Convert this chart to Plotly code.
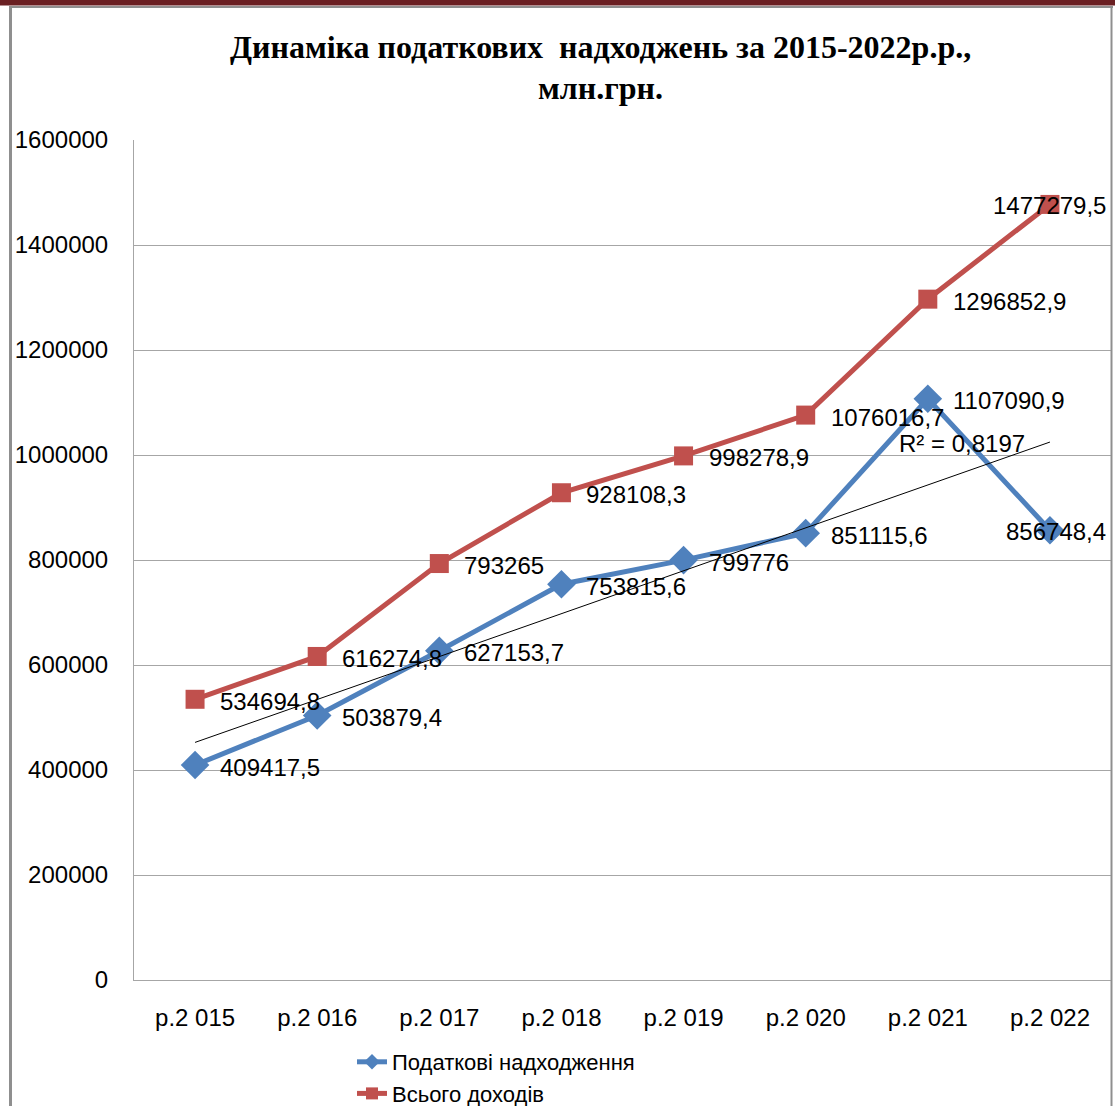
import numpy as np
import plotly.graph_objects as go

categories = ["р.2 015", "р.2 016", "р.2 017", "р.2 018", "р.2 019", "р.2 020", "р.2 021", "р.2 022"]
tax_revenue = [409417.5, 503879.4, 627153.7, 753815.6, 799776.0, 851115.6, 1107090.9, 856748.4]
total_revenue = [534694.8, 616274.8, 793265.0, 928108.3, 998278.9, 1076016.7, 1296852.9, 1477279.5]
y_ticks = [0, 200000, 400000, 600000, 800000, 1000000, 1200000, 1400000, 1600000]
r2_text = "R² = 0,8197"

BLUE = "#4f81bd"
RED = "#c0504d"
GRID = "#a6a6a6"
FONT = "Liberation Sans, Arial, sans-serif"
SERIF = "Liberation Serif, Times New Roman, serif"


def fmt(v):
    s = f"{v:.1f}".rstrip("0").rstrip(".")
    return s.replace(".", ",")


def px_x(p):
    return (p - 134) / 977


def px_y(p):
    return (980 - p) / 840


xs = list(range(len(categories)))
coef = np.polyfit(np.arange(1, len(tax_revenue) + 1), tax_revenue, 1)
trend_y = list(np.polyval(coef, np.arange(1, len(tax_revenue) + 1)))

fig = go.Figure()
fig.add_trace(go.Scatter(
    x=xs, y=tax_revenue, mode="lines+markers", name="Податкові надходження",
    line=dict(color=BLUE, width=5),
    marker=dict(symbol="diamond", size=22, color=BLUE),
))
fig.add_trace(go.Scatter(
    x=xs, y=total_revenue, mode="lines+markers", name="Всього доходів",
    line=dict(color=RED, width=5),
    marker=dict(symbol="square", size=19, color=RED),
))
fig.add_trace(go.Scatter(
    x=[xs[0], xs[-1]], y=[trend_y[0], trend_y[-1]], mode="lines",
    line=dict(color="#000000", width=1), showlegend=False, hoverinfo="skip",
))

annotations = []
n = len(categories)
for series in (tax_revenue, total_revenue):
    for i, v in enumerate(series):
        if i == n - 1:
            annotations.append(dict(x=xs[i], y=v, xref="x", yref="y", text=fmt(v),
                                    showarrow=False, xanchor="right", yanchor="middle",
                                    xshift=58, yshift=-1, font=dict(family=FONT, size=24, color="#000")))
        else:
            annotations.append(dict(x=xs[i], y=v, xref="x", yref="y", text=fmt(v),
                                    showarrow=False, xanchor="left", yanchor="middle",
                                    xshift=23, yshift=-2, font=dict(family=FONT, size=24, color="#000")))

annotations.append(dict(x=6.28, y=1022000, xref="x", yref="y", text=r2_text, showarrow=False,
                        xanchor="center", yanchor="middle",
                        font=dict(family=FONT, size=24, color="#000")))

# Title lines
annotations.append(dict(x=px_x(600), y=px_y(47), xref="paper", yref="paper",
                        text="<b>Динаміка податкових  надходжень за 2015-2022р.р.,</b>",
                        showarrow=False, xanchor="center", yanchor="middle",
                        font=dict(family=SERIF, size=32, color="#000")))
annotations.append(dict(x=px_x(600), y=px_y(88), xref="paper", yref="paper",
                        text="<b>млн.грн.</b>",
                        showarrow=False, xanchor="center", yanchor="middle",
                        font=dict(family=SERIF, size=32, color="#000")))

shapes = [
    # top dark red band
    dict(type="rect", xref="paper", yref="paper", x0=-0.2, x1=1.2,
         y0=px_y(5.5), y1=px_y(-10),
         fillcolor="#6a1f22", line=dict(width=0), layer="above"),
    # outer frame
    dict(type="line", xref="paper", yref="paper", x0=px_x(10.5), x1=px_x(10.5),
         y0=px_y(6.5), y1=px_y(1200), line=dict(color="#8f8f8f", width=3), layer="above"),
    dict(type="line", xref="paper", yref="paper", x0=px_x(9), x1=px_x(1113),
         y0=px_y(7), y1=px_y(7), line=dict(color="#8f8f8f", width=2), layer="above"),
    dict(type="line", xref="paper", yref="paper", x0=px_x(1111.5), x1=px_x(1111.5),
         y0=px_y(6.5), y1=px_y(1200), line=dict(color="#8f8f8f", width=2), layer="above"),
]

fig.update_layout(
    width=1115, height=1106,
    margin=dict(l=134, r=4, t=140, b=126, autoexpand=False),
    paper_bgcolor="white", plot_bgcolor="white",
    showlegend=True,
    legend=dict(orientation="v", x=px_x(352), xanchor="left",
                y=px_y(1041), yanchor="top",
                font=dict(family=FONT, size=22, color="#000"),
                bgcolor="rgba(0,0,0,0)", tracegroupgap=0, itemsizing="constant"),
    annotations=annotations,
    shapes=shapes,
    font=dict(family=FONT, size=24, color="#000"),
)
fig.update_xaxes(
    type="linear", range=[-0.5, n - 0.5], tickmode="array", tickvals=xs, ticktext=categories,
    showgrid=False, showline=True, linecolor=GRID, linewidth=1, zeroline=False,
    ticks="", ticklabelstandoff=16, tickfont=dict(family=FONT, size=24, color="#000"),
    automargin=False,
)
fig.update_yaxes(
    range=[0, 1600000], tickmode="array", tickvals=y_ticks, ticktext=[str(t) for t in y_ticks],
    showgrid=True, gridcolor=GRID, gridwidth=1, showline=True, linecolor=GRID, linewidth=1,
    zeroline=False, ticks="", ticklabelstandoff=20, tickfont=dict(family=FONT, size=24, color="#000"),
    automargin=False,
)

fig.write_html("out.html", config={"displayModeBar": False},
               post_script="document.body.style.margin='0';document.body.style.overflow='hidden';")
